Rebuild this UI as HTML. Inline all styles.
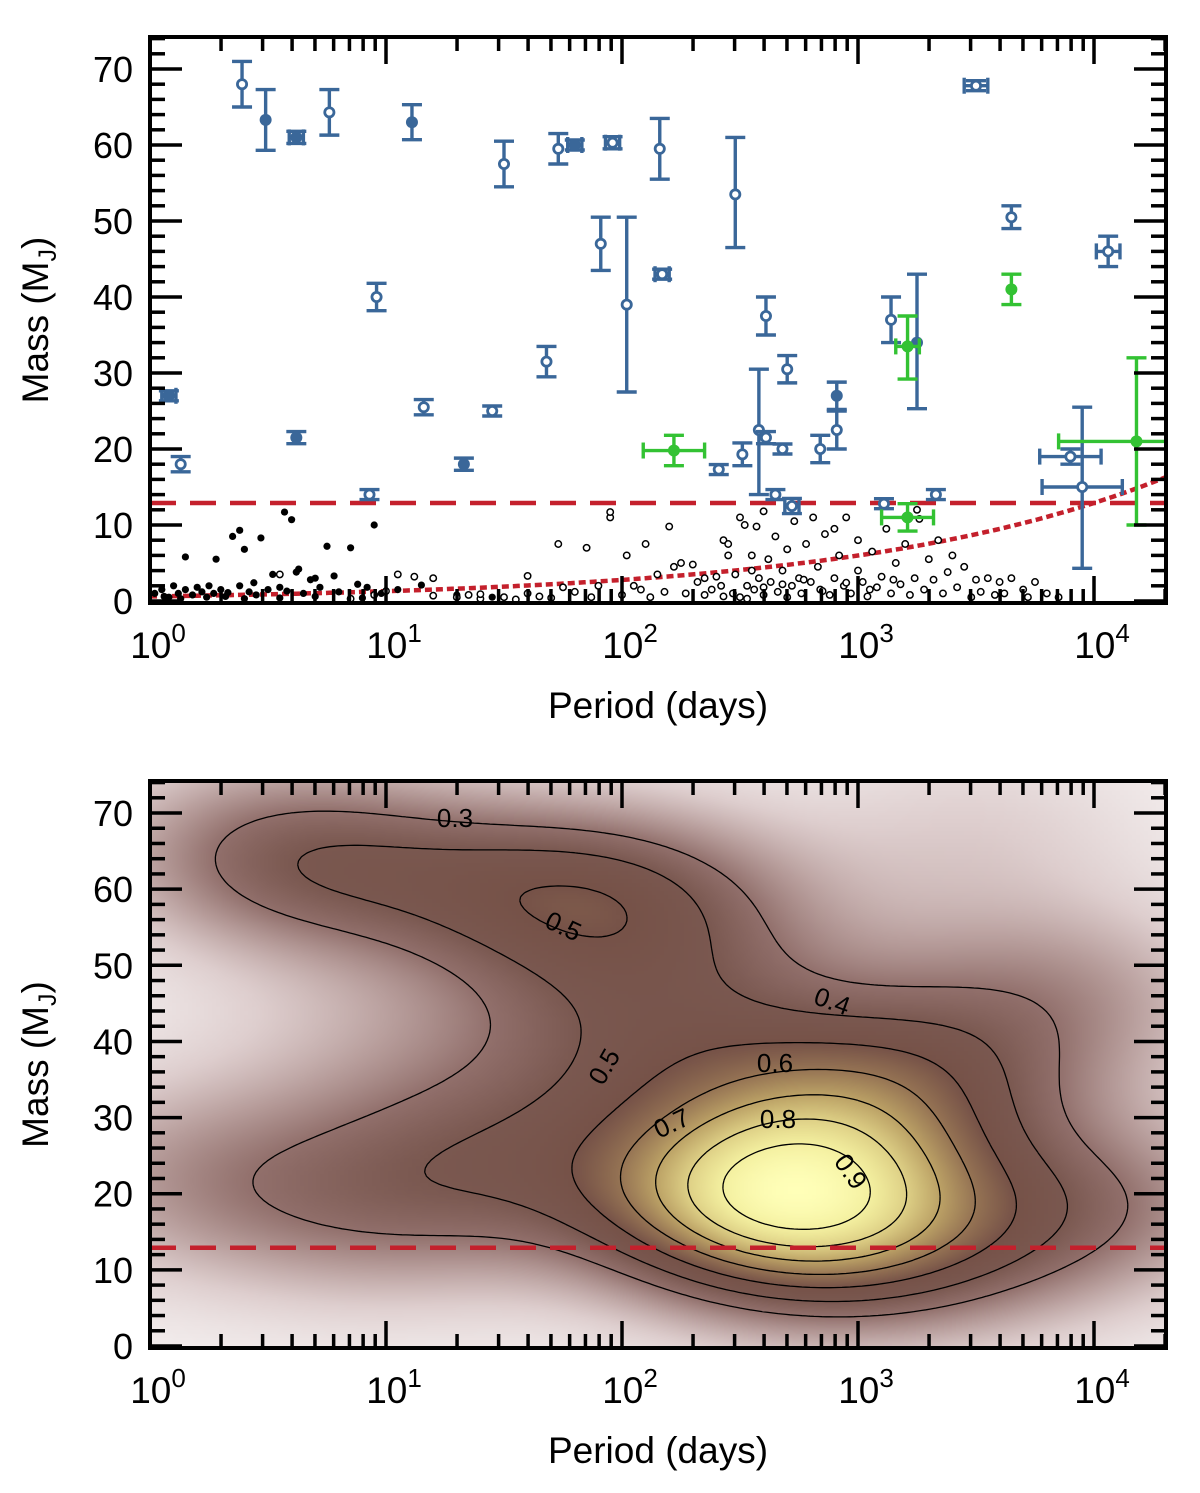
<!DOCTYPE html>
<html><head><meta charset="utf-8">
<style>
html,body{margin:0;padding:0;background:#fff;}
#wrap{position:relative;width:1200px;height:1493px;overflow:hidden;}
#heat{position:absolute;left:150px;top:781px;width:1016px;height:567px;}
#svg{position:absolute;left:0;top:0;}
text{font-family:"Liberation Sans",sans-serif;fill:#000;}
</style></head>
<body>
<div id="wrap">
<canvas id="heat" width="254" height="142"></canvas>
<svg id="svg" width="1200" height="1493"></svg>
</div>
<script>
// ---------- data ----------
const blueLogP=[0.08,0.13,0.39,0.49,0.62,0.62,0.76,0.93,0.96,1.11,1.16,1.33,1.45,1.50,1.68,1.73,1.80,1.91,1.96,2.02,2.16,2.17,2.41,2.48,2.51,2.58,2.61,2.61,2.65,2.68,2.70,2.72,2.84,2.91,2.91,3.11,3.14,3.25,3.33,3.50,3.65,3.90,3.95,4.06];
const blueMass=[27,18,68,63.3,61,21.5,64.3,14,40,63,25.5,18,25,57.5,31.5,59.5,60,47,60.3,39,59.5,43,17.3,53.5,19.3,22.5,37.5,21.5,14,20,30.5,12.5,20,27,22.5,12.8,37,34,14,67.8,50.5,19,15,46];
const blueErrLo=[0.6,1,3,4,0.8,0.8,3,0.5,1.8,2.3,1,0.8,0.6,3,2,2,0.4,3.5,0.8,11.5,4,0.5,0.6,7,1.5,8.5,2.5,0.8,0.5,0.5,1.8,1,1.8,1.8,2.5,0.5,3,8.7,0.5,0.5,1.5,1,10.7,2];
const blueErrHi=[0.6,1,3,4,0.8,0.8,3,0.5,1.8,2.3,1,0.8,0.6,3,2,2,0.4,3.5,0.8,11.5,4,0.5,0.6,7.5,1.5,8,2.5,0.8,0.5,0.5,1.8,1,1.8,1.8,2.5,0.5,3,9,0.5,0.5,1.5,1,10.5,2];
const bluePErr=[0.03,0,0,0,0.03,0,0,0,0,0,0,0,0,0,0,0,0.03,0,0.03,0,0,0.03,0,0,0,0,0,0,0,0,0,0.03,0,0,0,0,0,0,0,0.05,0,0.13,0.17,0.05];
const blueFilled=[1,0,0,1,1,1,0,0,0,1,0,1,0,0,0,0,1,0,0,0,0,0,0,0,0,0,0,0,0,0,0,0,0,1,0,0,0,1,0,0,0,0,0,0];
const greenLogP=[2.22,3.21,3.21,3.65,4.18];
const greenMass=[19.8,11,33.5,41,21];
const greenErrLo=[2,1.8,4.3,2,11];
const greenErrHi=[2,1.8,4,2,11];
const greenPErr=[0.13,0.11,0.05,0,0.33];
const filledDots=[[0.02,1],[0.05,1.5],[0.08,0.5],[0.1,2],[0.12,1],[0.15,1.5],[0.18,0.8],[0.2,1.8],[0.22,1.2],[0.25,2],[0.27,1],[0.3,1.5],[0.32,0.6],[0.35,8.5],[0.38,9.3],[0.38,2],[0.4,6.8],[0.42,1.2],[0.47,8.3],[0.5,1.5],[0.52,3.5],[0.55,1.8],[0.57,11.7],[0.6,10.7],[0.62,3.8],[0.63,4.2],[0.65,1],[0.68,2.8],[0.7,3],[0.72,1.8],[0.75,7.2],[0.78,3.3],[0.8,1.2],[0.85,7],[0.88,2.2],[0.92,1.8],[0.95,10],[0.98,1],[1.05,1.5],[1.15,2.1],[1.3,0.8],[1.45,0.5],[0.45,0.8],[0.28,5.5],[0.15,5.8],[0.06,0.6],[0.13,0.3],[0.24,0.5],[0.33,1.1],[0.44,2.4],[0.58,1.3],[0.7,0.6],[0.9,0.4],[0.55,0.4],[0.4,0.3]];
const openDots=[[0.55,3.5],[0.85,0.3],[1.05,3.5],[1.12,3.2],[1.2,3],[1.3,0.5],[1.35,0.8],[1.4,0.3],[1.5,0.5],[1.55,0.2],[1.6,1],[1.65,0.6],[1.7,0.4],[1.73,7.5],[1.75,1.8],[1.8,1.2],[1.85,7],[1.87,0.5],[1.9,2],[1.95,11],[1.95,11.7],[2.0,0.8],[2.02,6],[2.05,2],[2.08,1.5],[2.1,7.5],[2.12,0.5],[2.15,3.5],[2.18,1.2],[2.2,9.8],[2.22,4.5],[2.25,5],[2.27,1],[2.3,4.8],[2.32,2.5],[2.35,0.8],[2.38,1.5],[2.4,3.2],[2.42,2],[2.43,8],[2.45,7.5],[2.47,1],[2.48,3.5],[2.5,0.5],[2.5,11],[2.52,10],[2.53,2],[2.55,6],[2.56,1.5],[2.57,9.8],[2.58,3],[2.6,11.8],[2.6,0.8],[2.62,5.5],[2.63,2.5],[2.65,8.5],[2.66,1.2],[2.68,4],[2.7,6.8],[2.7,0.5],[2.72,2],[2.73,10.5],[2.75,3],[2.76,1],[2.78,7.5],[2.8,2.5],[2.81,11],[2.83,4.5],[2.84,1.5],[2.86,8.8],[2.88,0.8],[2.9,3],[2.92,6],[2.94,2],[2.95,11],[2.97,1],[3.0,4],[3.0,8],[3.02,2.5],[3.04,0.6],[3.06,6.5],[3.08,1.8],[3.1,3.2],[3.12,9.5],[3.14,1],[3.16,5],[3.18,2.2],[3.2,7.5],[3.22,0.8],[3.24,3],[3.26,10.8],[3.28,1.5],[3.3,5.5],[3.32,2.8],[3.34,8],[3.36,1],[3.38,3.8],[3.4,6],[3.42,1.8],[3.45,4.5],[3.48,0.5],[3.5,2.8],[3.52,1.2],[3.55,3],[3.58,0.8],[3.6,2.5],[3.62,1],[3.65,3],[3.7,1.5],[3.72,0.5],[3.75,2.5],[3.8,1],[3.85,0.5],[3.2,11],[3.25,12],[2.9,9.5],[2.45,6],[2.55,4],[2.35,3],[1.6,3.3],[1.4,0.9],[1.2,0.7],[0.95,0.8],[1.0,1.3],[2.68,2.2],[2.77,2.8],[2.85,1.3],[2.95,2.4],[3.05,1.5],[3.15,2.8],[2.6,1.8],[2.53,0.3],[2.43,0.6]];
const dividingMass=12.9;
const contourLevels=[0.3,0.4,0.5,0.6,0.7,0.8,0.9];
const xTickExps=[0,1,2,3,4];
const yTicks=[0,10,20,30,40,50,60,70];

// ---------- scales ----------
const X0=150,X1=1166,DEC=236,LOGMAX=(X1-X0)/DEC;
const xs=lp=>X0+lp*DEC;
const T={top:37,bot:603,y:m=>601-m*7.6};
const B={top:781,bot:1348,y:m=>1346-m*7.614};
const NS="http://www.w3.org/2000/svg";
const svg=document.getElementById('svg');
function mk(tag,attrs,parent){const e=document.createElementNS(NS,tag);for(const k in attrs)e.setAttribute(k,attrs[k]);(parent||svg).appendChild(e);return e;}
const clamp=(v,a,b)=>Math.max(a,Math.min(b,v));

// ---------- heatmap (KDE of data points) ----------
const allLP=blueLogP.concat(greenLogP), allM=blueMass.concat(greenMass);
const NX=254,NY=142,hx=0.52,hy=8.5;
const mTopB=(1346-781)/7.614, mBotB=(1346-1348)/7.614;
const grid=[];let gmax=0;
for(let j=0;j<=NY;j++){grid.push([]);for(let i=0;i<=NX;i++){
  const lp=i/NX*LOGMAX, m=mTopB-(j/NY)*(mTopB-mBotB);
  let s=0;for(let k=0;k<allLP.length;k++){const dx=(lp-allLP[k])/hx,dy=(m-allM[k])/hy;s+=Math.exp(-0.5*(dx*dx+dy*dy));}
  grid[j].push(s);if(s>gmax)gmax=s;}}
for(const r of grid)for(let i=0;i<r.length;i++)r[i]/=gmax;
const stops=[[0,[246,242,242]],[0.1,[222,206,206]],[0.2,[184,158,156]],[0.3,[146,112,108]],[0.4,[122,88,80]],[0.5,[118,82,72]],[0.6,[150,116,84]],[0.7,[188,162,102]],[0.8,[222,208,134]],[0.9,[244,240,160]],[1,[255,255,184]]];
function cmap(v){for(let k=1;k<stops.length;k++){if(v<=stops[k][0]){const a=stops[k-1],b=stops[k],t=(v-a[0])/(b[0]-a[0]);return a[1].map((c,i)=>c+(b[1][i]-c)*t);}}return stops[stops.length-1][1];}
const cv=document.getElementById('heat'),ctx=cv.getContext('2d'),img=ctx.createImageData(NX,NY);
for(let j=0;j<NY;j++)for(let i=0;i<NX;i++){const v=(grid[j][i]+grid[j][i+1]+grid[j+1][i]+grid[j+1][i+1])/4;const c=cmap(v);const p=(j*NX+i)*4;img.data[p]=c[0];img.data[p+1]=c[1];img.data[p+2]=c[2];img.data[p+3]=255;}
ctx.putImageData(img,0,0);

// ---------- contours (marching squares) ----------
const gx=i=>X0+i/NX*(X1-X0), gy=j=>B.top+j/NY*(B.bot-B.top);
const cg=mk('g',{fill:'none',stroke:'#000','stroke-width':1.3});
contourLevels.forEach(L=>{
  let d='';
  for(let j=0;j<NY;j++)for(let i=0;i<NX;i++){
    const a=grid[j][i],b=grid[j][i+1],c=grid[j+1][i+1],e=grid[j+1][i];
    const pts=[];
    const ed=(v1,v2,x1,y1,x2,y2)=>{if((v1<L)!==(v2<L)){const t=(L-v1)/(v2-v1);pts.push([x1+(x2-x1)*t,y1+(y2-y1)*t]);}};
    ed(a,b,gx(i),gy(j),gx(i+1),gy(j));
    ed(b,c,gx(i+1),gy(j),gx(i+1),gy(j+1));
    ed(e,c,gx(i),gy(j+1),gx(i+1),gy(j+1));
    ed(a,e,gx(i),gy(j),gx(i),gy(j+1));
    for(let k=0;k+1<pts.length;k+=2)d+=`M${pts[k][0].toFixed(1)} ${pts[k][1].toFixed(1)}L${pts[k+1][0].toFixed(1)} ${pts[k+1][1].toFixed(1)}`;
  }
  const p=mk('path',{d:d},cg);
  
  
});
const clabels=[['0.3',455,827,0],['0.5',563,935,25],['0.4',832,1010,20],['0.5',605,1075,-60],['0.6',775,1072,0],['0.7',672,1132,-25],['0.8',778,1128,0],['0.9',850,1180,55]];
clabels.forEach(c=>{const t=mk('text',{x:c[1],y:c[2],'font-size':26,'text-anchor':'middle',transform:`rotate(${c[3]} ${c[1]} ${c[2]-8})`});t.textContent=c[0];
  });

// ---------- top panel ----------
let dc='';for(let lp=0;lp<=LOGMAX+0.001;lp+=0.02){const m=dividingMass*Math.pow(10,(lp-4)/3);dc+=(dc?'L':'M')+xs(lp).toFixed(1)+' '+T.y(m).toFixed(1);}
const curve=mk('path',{d:dc,fill:'none',stroke:'#c4202c','stroke-width':4.5,'stroke-dasharray':'7 4'});


const dg=mk('g',{});
filledDots.forEach(p=>{const c=mk('circle',{cx:xs(p[0]),cy:T.y(p[1]),r:3.6,fill:'#000'},dg);});
openDots.forEach(p=>{const c=mk('circle',{cx:xs(p[0]),cy:T.y(p[1]),r:3.2,fill:'#fff',stroke:'#000','stroke-width':1.5},dg);});

function dline(y,name){const l=mk('line',{x1:X0,x2:X1,y1:y,y2:y,stroke:'#c4202c','stroke-width':4.5,'stroke-dasharray':'26 14'});}
dline(T.y(dividingMass),'deuterium-limit-line-top');
dline(B.y(dividingMass),'deuterium-limit-line-bottom');

function errPoint(lp,m,lo,hi,pe,filled,col,name){
  const g=mk('g',{stroke:col,'stroke-width':3.4,fill:'none'});
  
  const x=xs(lp),y=T.y(m);
  const y1=Math.max(T.y(m-lo),y+5),y2=Math.min(T.y(m+hi),y-5);
  mk('line',{x1:x,x2:x,y1:y1,y2:y2},g);mk('line',{x1:x-10,x2:x+10,y1:y1,y2:y1},g);mk('line',{x1:x-10,x2:x+10,y1:y2,y2:y2},g);
  if(pe>0){const x1=clamp(xs(lp-pe),X0,X1),x2=clamp(xs(lp+pe),X0,X1);
    mk('line',{x1:x1,x2:x2,y1:y,y2:y},g);
    if(x1>X0)mk('line',{x1:x1,x2:x1,y1:y-8,y2:y+8},g);if(x2<X1)mk('line',{x1:x2,x2:x2,y1:y-8,y2:y+8},g);}
  if(filled)mk('circle',{cx:x,cy:y,r:6,fill:col,stroke:'none'},g);
  else mk('circle',{cx:x,cy:y,r:4.6,fill:'#fff','stroke-width':2.8},g);
}
blueLogP.forEach((lp,i)=>errPoint(lp,blueMass[i],blueErrLo[i],blueErrHi[i],bluePErr[i],blueFilled[i],'#3a6799','brown-dwarf-point'));
greenLogP.forEach((lp,i)=>errPoint(lp,greenMass[i],greenErrLo[i],greenErrHi[i],greenPErr[i],1,'#33c233','new-detection-point'));

// ---------- axes ----------
function axes(P,prefix){
  const g=mk('g',{stroke:'#000',fill:'none'});
  
  xTickExps.forEach(e=>{if(e>LOGMAX)return;const x=xs(e);
    mk('line',{x1:x,x2:x,y1:P.bot,y2:P.bot-27,'stroke-width':3.5},g);mk('line',{x1:x,x2:x,y1:P.top,y2:P.top+27,'stroke-width':3.5},g);
    for(let k=2;k<=9;k++){const lp=e+Math.log10(k);if(lp>LOGMAX)continue;const xm=xs(lp);
      mk('line',{x1:xm,x2:xm,y1:P.bot,y2:P.bot-14,'stroke-width':3.5},g);mk('line',{x1:xm,x2:xm,y1:P.top,y2:P.top+14,'stroke-width':3.5},g);}
    const t=mk('text',{x:x+8,y:P.bot+55,'font-size':37,'text-anchor':'middle',stroke:'none'});
    t.innerHTML='10<tspan dy="-16" font-size="26">'+e+'</tspan>';
    });
  for(let m=0;m<=74;m+=2){const y=P.y(m);if(y<P.top+1)continue;const major=m%10===0;const L=major?32:15;
    mk('line',{x1:X0,x2:X0+L,y1:y,y2:y,'stroke-width':3.5},g);mk('line',{x1:X1,x2:X1-L,y1:y,y2:y,'stroke-width':3.5},g);}
  yTicks.forEach(m=>{const t=mk('text',{x:133,y:P.y(m)+13,'font-size':36,'text-anchor':'end',stroke:'none'});t.textContent=m;
    });
  const fr=mk('rect',{x:X0,y:P.top,width:X1-X0,height:P.bot-P.top,'stroke-width':4},g);
  
  const xt=mk('text',{x:658,y:P.bot+115,'font-size':37,'text-anchor':'middle'});xt.textContent='Period (days)';
  
  const cy=(P.top+P.bot)/2;
  const yt=mk('text',{x:48,y:cy,'font-size':37,'text-anchor':'middle',transform:`rotate(-90 48 ${cy})`});
  yt.innerHTML='Mass (M<tspan font-size="25" dy="8">J</tspan><tspan dy="-8">)</tspan>';
  
}
axes(T,'top');
axes(B,'bottom');
</script>
</body></html>
